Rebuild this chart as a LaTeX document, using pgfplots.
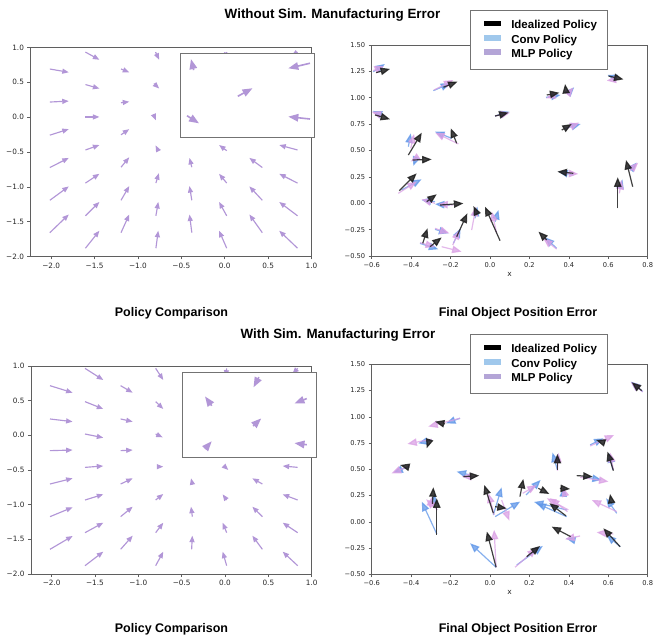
\documentclass[border=0pt]{standalone}
\usepackage{fontspec}
\setmainfont{Liberation Sans}
\newfontfamily\dejavu{DejaVu Sans}
\usepackage{pgfplots}
\pgfplotsset{compat=1.18}
\usepackage{pgfplotstable}
\usetikzlibrary{arrows.meta}

\definecolor{lav}{RGB}{178,150,215}
\definecolor{idc}{RGB}{30,30,30}
\definecolor{cvc}{RGB}{95,150,232}
\definecolor{mlc}{RGB}{218,160,228}
\definecolor{cvleg}{RGB}{160,200,236}
\definecolor{mlleg}{RGB}{180,165,215}
\definecolor{spine}{RGB}{95,95,95}

% ---------- left quiver fields ----------
\pgfplotstableread{
x y u v
-2.015 0.691 0.218 -0.047
-2.015 0.217 0.218 0.014
-2.015 -0.258 0.218 0.086
-2.015 -0.723 0.218 0.138
-2.015 -1.193 0.218 0.199
-2.015 -1.658 0.218 0.261
-1.605 0.934 0.161 -0.110
-1.605 0.468 0.161 -0.057
-1.605 0.003 0.161 0.000
-1.605 -0.471 0.161 0.071
-1.605 -0.946 0.161 0.133
-1.605 -1.416 0.161 0.199
-1.605 -1.881 0.161 0.251
-1.195 0.691 0.095 -0.047
-1.195 0.207 0.095 0.015
-1.195 -0.253 0.095 0.081
-1.195 -0.718 0.095 0.142
-1.195 -1.193 0.095 0.204
-1.195 -1.658 0.095 0.261
-0.797 0.934 0.042 -0.110
-0.816 0.483 0.061 -0.072
-0.812 0.013 0.019 -0.057
-0.766 -0.481 -0.031 0.076
-0.793 -0.946 0.034 0.142
-0.793 -1.416 0.027 0.199
-0.793 -1.881 0.027 0.251
-0.379 -0.718 -0.027 0.133
-0.379 -1.193 -0.027 0.204
-0.379 -1.658 -0.027 0.261
0.023 0.934 -0.020 -0.100
0.023 -0.481 -0.088 0.081
0.023 -0.946 -0.088 0.133
0.023 -1.416 -0.088 0.199
0.023 -1.881 -0.088 0.251
0.433 -0.723 -0.149 0.138
0.433 -1.193 -0.149 0.199
0.433 -1.658 -0.149 0.261
0.839 0.934 -0.070 -0.050
0.839 -0.471 -0.211 0.071
0.839 -0.946 -0.211 0.133
0.839 -1.416 -0.211 0.199
0.839 -1.881 -0.211 0.251
}\tlq

\pgfplotstableread{
x y u v
-2.019 0.716 0.261 -0.101
-2.019 0.236 0.261 -0.039
-2.019 -0.221 0.261 0.009
-2.019 -0.702 0.261 0.082
-2.019 -1.173 0.261 0.135
-2.019 -1.644 0.261 0.192
-1.615 0.966 0.211 -0.168
-1.615 0.486 0.211 -0.106
-1.615 0.019 0.211 -0.053
-1.615 -0.462 0.211 0.020
-1.615 -0.933 0.211 0.082
-1.615 -1.404 0.211 0.144
-1.615 -1.880 0.211 0.202
-1.204 0.716 0.139 -0.101
-1.204 0.236 0.139 -0.039
-1.204 -0.221 0.139 0.009
-1.204 -0.702 0.139 0.082
-1.204 -1.173 0.139 0.144
-1.204 -1.644 0.139 0.197
-0.800 0.966 0.088 -0.168
-0.800 0.486 0.088 -0.106
-0.800 0.019 0.081 -0.048
-0.770 -0.452 0.058 0.000
-0.800 -0.933 0.088 0.087
-0.800 -1.404 0.088 0.144
-0.800 -1.880 0.088 0.202
-0.377 -0.702 -0.015 0.082
-0.377 -1.173 -0.015 0.144
-0.385 -1.644 0.008 0.197
0.019 0.966 -0.010 -0.120
-0.012 -0.442 0.050 -0.058
0.019 -0.933 -0.046 0.082
0.019 -1.404 -0.046 0.144
0.019 -1.880 -0.046 0.202
0.431 -0.702 -0.116 0.082
0.431 -1.173 -0.116 0.144
0.431 -1.644 -0.116 0.197
0.838 0.966 -0.060 -0.080
0.838 -0.462 -0.173 0.020
0.838 -0.933 -0.173 0.082
0.838 -1.404 -0.173 0.144
0.838 -1.880 -0.173 0.202
}\blq

\pgfplotstableread{
x y u v
0.10 0.80 -0.02 0.13
0.970 0.881 -0.162 -0.060
0.43 0.49 0.11 0.095
0.05 0.26 0.09 -0.09
0.970 0.221 -0.162 0.028
}\tiq

\pgfplotstableread{
x y u v
0.573 0.949 -0.04 -0.12
0.22 0.61 -0.05 0.11
0.931 0.695 -0.092 -0.058
0.53 0.37 0.06 0.09
0.17 0.10 0.05 0.09
0.931 0.148 -0.092 0.02
}\biq

% ---------- right: final object position error ----------
\pgfplotstableread{
x y u v
-0.578 1.238 0.071 0.035
-0.236 1.099 0.071 0.054
0.288 1.026 0.064 0.022
0.386 1.048 -0.005 0.082
0.601 1.206 0.076 -0.032
-0.583 0.837 0.076 -0.041
0.026 0.827 0.068 0.032
0.364 0.694 0.051 0.057
-0.414 0.457 0.068 0.212
-0.169 0.568 -0.030 0.142
-0.392 0.410 0.096 0.006
-0.460 0.119 0.088 0.164
0.423 0.284 -0.081 0.016
0.724 0.157 -0.034 0.253
0.648 -0.048 0.000 0.294
-0.321 0.015 0.051 0.070
-0.253 -0.017 0.118 0.016
-0.067 -0.096 -0.017 0.070
0.051 -0.355 -0.076 0.322
-0.169 -0.317 0.054 0.221
-0.341 -0.380 0.024 0.142
-0.304 -0.412 0.059 0.088
0.288 -0.348 -0.042 0.079
}\trk

\pgfplotstableread{
x y u v
-0.592 1.247 0.059 0.073
-0.287 1.067 0.085 0.070
0.284 1.004 0.074 0.022
0.398 1.042 0.029 0.057
0.643 1.184 -0.047 0.032
-0.549 0.837 -0.046 0.038
0.026 0.827 0.073 0.041
0.381 0.710 0.079 0.041
-0.414 0.536 0.012 0.126
-0.194 0.615 -0.085 0.063
-0.372 0.442 -0.017 -0.088
-0.448 0.126 0.101 0.101
0.423 0.268 -0.076 0.032
0.719 0.331 0.025 0.054
0.660 0.141 0.012 0.085
-0.279 0.015 -0.068 0.016
-0.203 -0.017 -0.076 0.009
-0.076 -0.143 0.012 0.111
0.026 -0.175 0.017 0.111
-0.186 -0.380 0.037 0.142
-0.355 -0.380 0.093 -0.057
-0.279 -0.247 0.068 -0.038
0.338 -0.427 -0.059 0.104
}\trb

\pgfplotstableread{
x y u v
-0.592 1.257 0.054 0.044
-0.284 1.073 0.098 0.095
0.338 1.032 -0.054 -0.038
0.393 1.032 0.030 0.066
0.643 1.175 -0.051 -0.013
-0.549 0.833 -0.051 0.035
0.026 0.827 0.076 0.032
0.389 0.710 0.064 0.054
-0.402 0.521 0.017 0.136
-0.160 0.562 -0.118 0.107
-0.363 0.442 -0.039 -0.047
-0.465 0.094 0.093 0.111
0.372 0.284 0.076 -0.006
0.710 0.309 0.042 0.076
0.656 0.094 0.012 0.126
-0.279 -0.001 -0.068 0.038
-0.186 -0.017 -0.076 0.009
-0.093 -0.254 0.022 0.221
0.034 -0.285 -0.025 0.205
-0.189 -0.396 0.034 0.142
-0.355 -0.374 0.076 -0.038
-0.279 -0.238 0.073 -0.047
-0.245 -0.412 0.101 -0.047
0.338 -0.434 -0.068 0.101
}\trp

\pgfplotstableread{
x y u v
0.770 1.249 -0.051 0.079
-0.228 0.932 -0.051 0.022
-0.307 0.779 -0.014 -0.079
-0.409 0.519 -0.047 0.022
-0.135 0.430 0.081 0.010
-0.270 -0.125 0.000 0.349
-0.292 0.170 0.005 0.159
0.017 0.081 -0.046 0.270
0.026 0.144 0.059 -0.016
0.152 0.240 0.017 0.168
0.245 0.319 0.056 -0.054
0.386 0.056 -0.085 0.121
0.342 0.494 0.000 0.152
0.355 0.319 0.051 -0.006
0.440 0.440 0.081 -0.010
0.579 0.754 -0.041 0.025
0.626 0.487 -0.030 0.181
0.617 0.176 -0.008 0.089
0.660 -0.237 -0.085 0.175
0.409 -0.141 -0.096 0.095
0.031 -0.433 -0.047 0.340
0.186 -0.332 0.068 0.102
}\brk

\pgfplotstableread{
x y u v
0.775 1.240 -0.061 0.095
-0.152 0.986 -0.071 -0.048
-0.296 0.779 -0.068 -0.032
-0.414 0.525 -0.076 -0.057
-0.101 0.446 -0.068 0.032
-0.270 -0.116 -0.076 0.308
-0.287 0.160 0.007 0.105
0.017 0.065 0.042 0.263
0.026 0.049 0.127 0.143
0.183 0.256 0.074 0.143
0.389 0.113 -0.166 0.076
0.389 0.049 -0.152 0.127
0.342 0.494 -0.025 0.165
0.372 0.256 0.003 0.073
0.474 0.430 0.093 -0.032
0.508 0.732 0.068 0.063
0.623 0.494 -0.017 0.159
0.643 0.081 -0.054 0.143
0.660 -0.237 -0.068 0.111
0.423 -0.173 -0.037 0.016
0.031 -0.433 -0.132 0.229
0.136 -0.411 0.132 0.181
}\brb

\pgfplotstableread{
x y u v
0.775 1.237 -0.061 0.095
-0.152 0.986 -0.161 -0.079
-0.296 0.786 -0.123 -0.044
-0.409 0.532 -0.090 -0.070
-0.067 0.430 -0.076 0.000
-0.267 0.113 -0.057 0.102
-0.304 0.144 0.010 0.095
0.021 0.065 -0.029 0.206
0.059 0.208 0.039 -0.197
0.166 0.271 0.071 0.079
0.398 0.113 -0.110 0.111
0.393 0.097 -0.088 0.127
0.342 0.487 0.005 0.171
0.381 0.256 -0.012 0.073
0.457 0.424 0.144 -0.041
0.508 0.722 0.122 0.105
0.626 0.494 -0.017 0.165
0.643 0.097 -0.127 0.111
0.626 -0.116 -0.085 0.016
0.457 -0.135 -0.076 -0.032
0.031 -0.433 -0.010 0.356
0.127 -0.433 0.110 0.181
}\brp

\pgfplotsset{
  mybase/.style={
    scale only axis,
    axis line style={spine, line width=0.7pt},
    tick style={spine, line width=0.6pt},
    tick align=outside,
    major tick length=3pt,
    xtick pos=left, ytick pos=left,
    ticklabel style={text=black!85},
  },
  leftax/.style={mybase, width=281pt, height=209pt,
    xmin=-2.238, xmax=1.0, ymin=-2, ymax=1,
    xtick={-2,-1.5,-1,-0.5,0,0.5,1},
    xticklabels={−2.0,−1.5,−1.0,−0.5,0.0,0.5,1.0},
    ytick={-2,-1.5,-1,-0.5,0,0.5,1},
    yticklabels={−2.0,−1.5,−1.0,−0.5,0.0,0.5,1.0},
    tick label style={font=\dejavu\fontsize{7.3}{8}\selectfont}},
  rightax/.style={mybase, width=276pt, height=211pt,
    xmin=-0.6, xmax=0.8, ymin=-0.5, ymax=1.5,
    xtick={-0.6,-0.4,-0.2,0,0.2,0.4,0.6,0.8},
    xticklabels={−0.6,−0.4,−0.2,0.0,0.2,0.4,0.6,0.8},
    ytick={-0.5,-0.25,0,0.25,0.5,0.75,1,1.25,1.5},
    yticklabels={−0.50,−0.25,0.00,0.25,0.50,0.75,1.00,1.25,1.50},
    tick label style={font=\dejavu\fontsize{6.7}{8}\selectfont},
    xlabel={x},
    xlabel style={font=\dejavu\fontsize{7.5}{9}\selectfont, text=black!85, yshift=2pt},
    legend cell align=left,
    legend style={draw=black!55, line width=0.6pt, fill=white,
      font=\bfseries\fontsize{11.5}{13}\selectfont,
      inner xsep=8.7pt, inner ysep=8.3pt, row sep=1pt,
      nodes={inner xsep=2pt, inner ysep=1.8pt},
      /tikz/every odd column/.append style={column sep=8.7pt}},
  },
  insetax/.style={scale only axis, width=133.7pt, height=84.5pt,
    xmin=0, xmax=1, ymin=0, ymax=1, xtick=\empty, ytick=\empty,
    axis line style={black!55, line width=0.8pt},
    axis background/.style={fill=white}},
  lq/.style={quiver={u=\thisrow{u},v=\thisrow{v}}, draw=lav, fill=lav,
    line width=1.15pt, -{Triangle[length=6.5pt,width=5pt]}},
  iq/.style={quiver={u=\thisrow{u},v=\thisrow{v}}, draw=lav, fill=lav,
    line width=1.6pt, -{Triangle[length=10pt,width=7.5pt]}},
  rq/.style={quiver={u=\thisrow{u},v=\thisrow{v}},
    line width=1.2pt, -{Triangle[length=9.5pt,width=7.5pt]}},
  legimgk/.style={legend image code/.code={
    \path[draw=none, fill=none] (-5.3pt,0pt) rectangle (16.3pt,0.1pt);
    \fill[black, draw=none] (0pt,-1pt) rectangle (16.3pt,4.7pt);}},
  legimgc/.style={legend image code/.code={
    \path[draw=none, fill=none] (-5.3pt,0pt) rectangle (16.3pt,0.1pt);
    \fill[cvleg, draw=none] (0pt,-1pt) rectangle (16.3pt,4.7pt);}},
  legimgm/.style={legend image code/.code={
    \path[draw=none, fill=none] (-5.3pt,0pt) rectangle (16.3pt,0.1pt);
    \fill[mlleg, draw=none] (0pt,-1pt) rectangle (16.3pt,4.7pt);}},
}

\begin{document}
\begin{tikzpicture}[x=1pt,y=1pt]
\path[use as bounding box] (0,0) rectangle (653,635);

% titles
\node[font=\bfseries\fontsize{13.4}{16}\selectfont] at (332.5,620) {Without Sim. Manufacturing Error};
\node[font=\bfseries\fontsize{13.4}{16}\selectfont] at (338,300) {With Sim. Manufacturing Error};
\node[font=\bfseries\fontsize{12.5}{15}\selectfont] at (171.5,322) {Policy Comparison};
\node[font=\bfseries\fontsize{12.5}{15}\selectfont] at (518,322) {Final Object Position Error};
\node[font=\bfseries\fontsize{12.5}{15}\selectfont, anchor=base] at (171.5,2.8) {Policy Comparison};
\node[font=\bfseries\fontsize{12.5}{15}\selectfont, anchor=base] at (518,2.8) {Final Object Position Error};

% ---------- top left ----------
\begin{axis}[leftax, at={(30.5pt,378.5pt)}, anchor=south west]
\addplot[lq] table[x=x,y=y] {\tlq};
\end{axis}
\begin{axis}[insetax, at={(180.3pt,497.3pt)}, anchor=south west]
\addplot[iq] table[x=x,y=y] {\tiq};
\end{axis}

% ---------- top right ----------
\begin{axis}[rightax, at={(371.7pt,379pt)}, anchor=south west,
  legend style={at={(rel axis cs:0.356,1.166)}, anchor=north west}]
\addlegendimage{legimgk}\addlegendentry{Idealized Policy}
\addlegendimage{legimgc}\addlegendentry{Conv Policy}
\addlegendimage{legimgm}\addlegendentry{MLP Policy}
\addplot[rq, draw=cvc, fill=cvc, opacity=0.75, forget plot] table[x=x,y=y] {\trb};
\addplot[rq, draw=mlc, fill=mlc, opacity=0.75, forget plot] table[x=x,y=y] {\trp};
\addplot[rq, draw=idc, fill=idc, opacity=0.85, forget plot] table[x=x,y=y] {\trk};
\end{axis}

% ---------- bottom left ----------
\begin{axis}[leftax, at={(31pt,61pt)}, anchor=south west, height=208pt, width=280.7pt]
\addplot[lq] table[x=x,y=y] {\blq};
\end{axis}
\begin{axis}[insetax, at={(182.3pt,177.7pt)}, anchor=south west]
\addplot[iq] table[x=x,y=y] {\biq};
\end{axis}

% ---------- bottom right ----------
\begin{axis}[rightax, at={(371.7pt,60.7pt)}, anchor=south west, height=210pt,
  legend style={at={(rel axis cs:0.356,1.144)}, anchor=north west}]
\addlegendimage{legimgk}\addlegendentry{Idealized Policy}
\addlegendimage{legimgc}\addlegendentry{Conv Policy}
\addlegendimage{legimgm}\addlegendentry{MLP Policy}
\addplot[rq, draw=cvc, fill=cvc, opacity=0.75, forget plot] table[x=x,y=y] {\brb};
\addplot[rq, draw=mlc, fill=mlc, opacity=0.75, forget plot] table[x=x,y=y] {\brp};
\addplot[rq, draw=idc, fill=idc, opacity=0.85, forget plot] table[x=x,y=y] {\brk};
\end{axis}
\end{tikzpicture}
\end{document}
